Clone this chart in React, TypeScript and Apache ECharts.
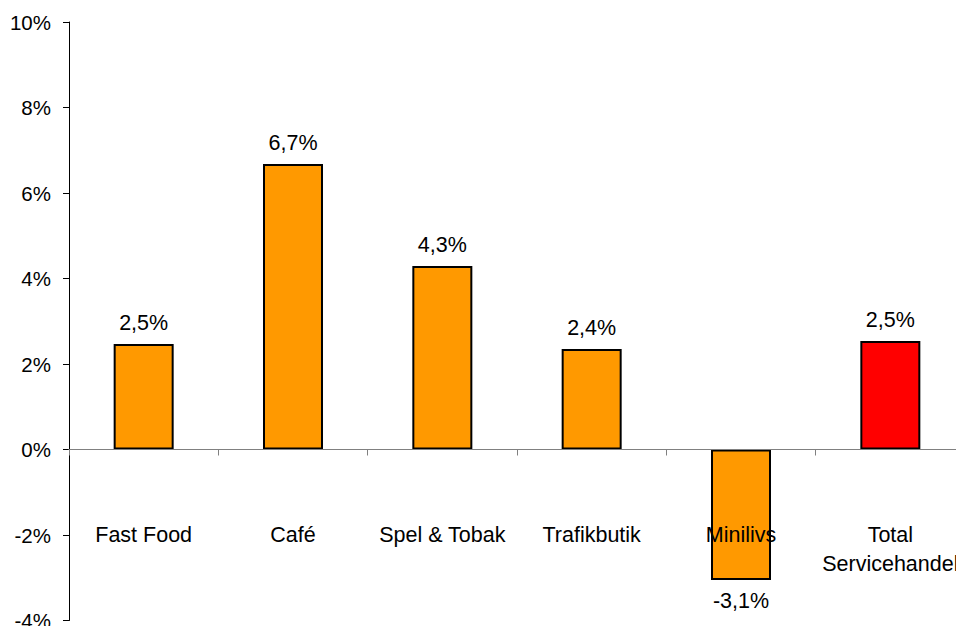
import React, { useEffect, useRef } from "react";
import * as echarts from "echarts";

const categories = ["Fast Food", "Café", "Spel & Tobak", "Trafikbutik", "Minilivs", "Total\nServicehandel"];
const values = [2.47, 6.68, 4.29, 2.35, -3.05, 2.54];
const valueLabels = ["2,5%", "6,7%", "4,3%", "2,4%", "-3,1%", "2,5%"];
const barColors = ["#FF9900", "#FF9900", "#FF9900", "#FF9900", "#FF9900", "#FF0000"];
const yTicks = { min: -4, max: 10, interval: 2 };

export default function App() {
  const ref = useRef<HTMLDivElement>(null);
  useEffect(() => {
    document.body.style.margin = "0";
    const chart = echarts.init(ref.current!, null, { renderer: "svg" });
    const font = "'Liberation Sans', Arial, sans-serif";
    chart.setOption({
      animation: false,
      grid: { left: 69, right: -9, top: 22, bottom: 5.5, containLabel: false, outerBoundsMode: "none" },
      xAxis: {
        type: "category",
        data: categories,
        z: 5,
        axisLine: { onZero: true, lineStyle: { color: "#808080", width: 1 } },
        axisTick: { show: true, length: 6, lineStyle: { color: "#808080" } },
        axisLabel: {
          margin: -100.5,
          color: "#000",
          fontSize: 21.5,
          fontFamily: font,
          lineHeight: 29,
          interval: 0,
        },
      },
      yAxis: {
        type: "value",
        min: yTicks.min,
        max: yTicks.max,
        interval: yTicks.interval,
        axisLine: { show: true, lineStyle: { color: "#000", width: 1 } },
        axisTick: { show: true, length: 6, lineStyle: { color: "#000" } },
        splitLine: { show: false },
        axisLabel: {
          margin: 18,
          color: "#000",
          fontSize: 20.5,
          fontFamily: font,
          formatter: (v: number) => `${v}%`,
        },
      },
      series: [
        {
          type: "bar",
          barWidth: 60,
          data: values.map((v, i) => ({
            value: v,
            itemStyle: { color: barColors[i], borderColor: "#000", borderWidth: 2 },
            label: { position: v < 0 ? "bottom" : "top" },
          })),
          label: {
            show: true,
            distance: 10,
            color: "#000",
            fontSize: 21.5,
            fontFamily: font,
            formatter: (p: any) => valueLabels[p.dataIndex],
          },
        },
      ],
    });
    return () => chart.dispose();
  }, []);
  return <div ref={ref} style={{ width: 956, height: 626 }} />;
}
